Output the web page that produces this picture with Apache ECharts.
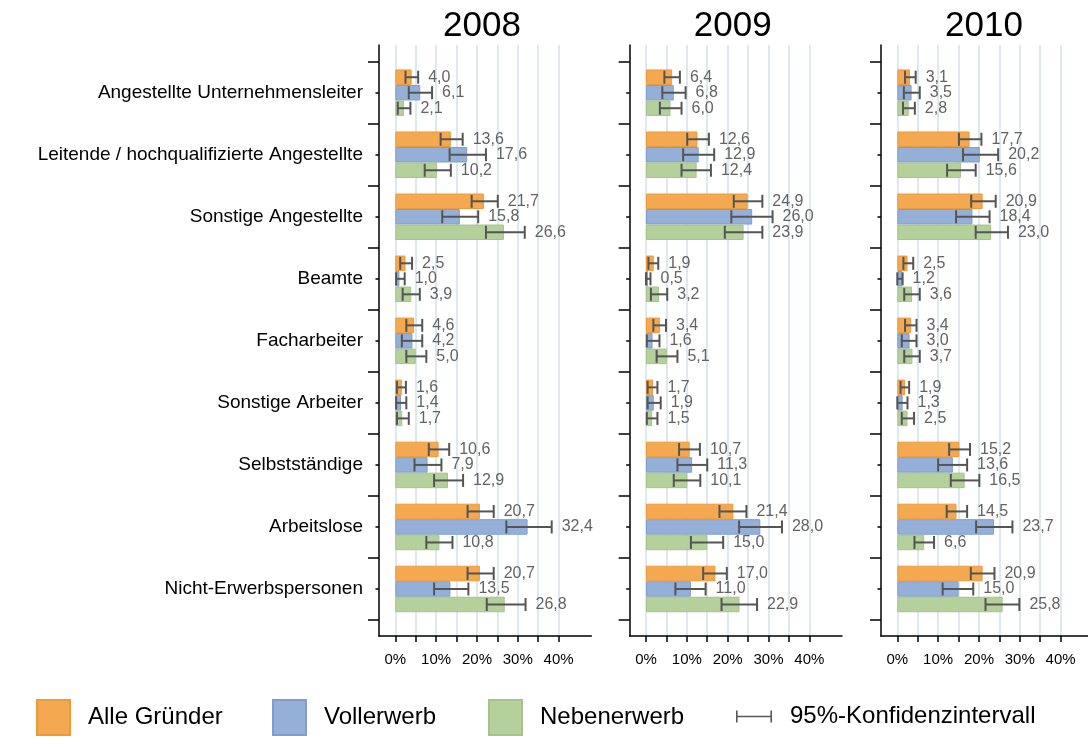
<!DOCTYPE html>
<html>
<head>
<meta charset="utf-8">
<script src="https://cdn.jsdelivr.net/npm/echarts@6/dist/echarts.min.js"></script>
<style>
html, body { margin: 0; padding: 0; background: #fff; }
#chart { width: 1088px; height: 747px; }
</style>
</head>
<body>
<div id="chart"></div>
<script>
var categories = ['Angestellte Unternehmensleiter', 'Leitende / hochqualifizierte Angestellte', 'Sonstige Angestellte',
    'Beamte', 'Facharbeiter', 'Sonstige Arbeiter', 'Selbstständige', 'Arbeitslose', 'Nicht-Erwerbspersonen'];
var years = ['2008', '2009', '2010'];

// Anteile in %
var alle2008 = [4.0, 13.6, 21.7, 2.5, 4.6, 1.6, 10.6, 20.7, 20.7];
var voll2008 = [6.1, 17.6, 15.8, 1.0, 4.2, 1.4, 7.9, 32.4, 13.5];
var neben2008 = [2.1, 10.2, 26.6, 3.9, 5.0, 1.7, 12.9, 10.8, 26.8];
var alle2009 = [6.4, 12.6, 24.9, 1.9, 3.4, 1.7, 10.7, 21.4, 17.0];
var voll2009 = [6.8, 12.9, 26.0, 0.5, 1.6, 1.9, 11.3, 28.0, 11.0];
var neben2009 = [6.0, 12.4, 23.9, 3.2, 5.1, 1.5, 10.1, 15.0, 22.9];
var alle2010 = [3.1, 17.7, 20.9, 2.5, 3.4, 1.9, 15.2, 14.5, 20.9];
var voll2010 = [3.5, 20.2, 18.4, 1.2, 3.0, 1.3, 13.6, 23.7, 15.0];
var neben2010 = [2.8, 15.6, 23.0, 3.6, 3.7, 2.5, 16.5, 6.6, 25.8];

// 95%-Konfidenzintervalle [untere, obere Grenze]
var alle2008Ci = [[2.5, 5.6], [11.1, 16.5], [18.7, 25.1], [1.2, 4.1], [2.7, 6.6], [0.4, 2.6], [8.2, 13.2], [17.7, 24.1], [17.7, 24.1]];
var voll2008Ci = [[3.3, 9.0], [13.3, 22.2], [11.5, 20.3], [0.2, 2.3], [1.6, 6.6], [0.2, 2.7], [4.7, 11.3], [27.2, 38.3], [9.5, 17.9]];
var neben2008Ci = [[0.6, 3.7], [7.2, 13.6], [22.2, 31.7], [1.8, 6.0], [2.7, 7.6], [0.4, 3.3], [9.5, 16.6], [7.6, 14.0], [22.4, 31.9]];
var alle2009Ci = [[4.5, 8.3], [10.1, 15.4], [21.5, 28.5], [0.6, 3.0], [1.8, 4.9], [0.4, 2.8], [8.1, 13.2], [18.0, 24.6], [14.0, 19.8]];
var voll2009Ci = [[4.0, 9.7], [9.1, 16.7], [20.9, 31.0], [0.0, 1.1], [0.2, 3.3], [0.4, 3.6], [7.7, 15.0], [22.8, 33.3], [7.2, 14.6]];
var neben2009Ci = [[3.4, 8.7], [8.7, 15.9], [19.3, 28.5], [1.2, 5.2], [2.6, 7.7], [0.2, 2.8], [6.8, 13.3], [11.0, 18.9], [18.5, 27.2]];
var alle2010Ci = [[1.9, 4.5], [15.1, 20.6], [18.1, 24.1], [1.5, 3.9], [1.9, 4.7], [0.8, 2.9], [12.7, 17.8], [12.1, 17.1], [18.0, 23.8]];
var voll2010Ci = [[1.6, 5.5], [16.1, 24.7], [14.4, 22.6], [0.0, 1.3], [1.1, 4.7], [0.0, 2.5], [10.0, 17.1], [19.3, 28.2], [11.1, 18.6]];
var neben2010Ci = [[1.4, 4.3], [12.2, 19.2], [19.2, 27.1], [1.7, 5.5], [1.7, 5.5], [1.1, 4.1], [13.1, 20.1], [4.2, 9.0], [21.6, 29.9]];

var values = [[alle2008, voll2008, neben2008], [alle2009, voll2009, neben2009], [alle2010, voll2010, neben2010]];
var cis = [[alle2008Ci, voll2008Ci, neben2008Ci], [alle2009Ci, voll2009Ci, neben2009Ci], [alle2010Ci, voll2010Ci, neben2010Ci]];

var seriesNames = ['Alle Gründer', 'Vollerwerb', 'Nebenerwerb'];
var ciName = '95%-Konfidenzintervall';
var colors = ['#f4a84f', '#95b0d8', '#b4d09b'];
var borders = ['#ec9a3c', '#809dcb', '#a4c48b'];
var FONT = '"Liberation Sans", Arial, sans-serif';

// Layout
var zeroX = [395.3, 646, 897.3];
var pxPerPct = 4.083;
var xMin = -4, xMax = 48;
var frameTop = 45, frameBottom = 636;
var catTop = 61.7, catBottom = 620;

function fmt(v) {
    return v.toFixed(1).replace('.', ',');
}

function renderCi(params, api) {
    var cat = api.value(0), k = api.value(1), v = api.value(2);
    var lo = api.value(3), hi = api.value(4);
    var center = api.coord([0, cat]);
    var band = api.size([0, 1])[1];
    var y = center[1] + (k - 1) * band * 0.25;
    var x0 = api.coord([lo, cat])[0];
    var x1 = api.coord([hi, cat])[0];
    var h = 6.5;
    var ls = { stroke: '#555', lineWidth: 2 };
    return {
        type: 'group',
        children: [
            { type: 'line', shape: { x1: x0, y1: y, x2: x1, y2: y }, style: ls },
            { type: 'line', shape: { x1: x0, y1: y - h, x2: x0, y2: y + h }, style: ls },
            { type: 'line', shape: { x1: x1, y1: y - h, x2: x1, y2: y + h }, style: ls },
            {
                type: 'text', x: x1 + 10, y: y,
                style: { text: fmt(v), fill: '#636363', fontSize: 16, fontFamily: FONT, align: 'left', verticalAlign: 'middle' }
            }
        ]
    };
}

var grid = [], xAxis = [], yAxis = [], series = [], title = [];
var blackLine = { color: '#000', width: 1.5 };

years.forEach(function (year, p) {
    var z = zeroX[p];
    var left = z + xMin * pxPerPct;
    var width = (xMax - xMin) * pxPerPct;

    // Rahmen (Achsenlinien)
    grid.push({ left: left, top: frameTop, width: width, height: frameBottom - frameTop, outerBoundsMode: 'none' });
    // Gitterlinien, Ticks, Beschriftung 0-40 %
    grid.push({ left: z, top: frameTop, width: 40 * pxPerPct, height: frameBottom - frameTop, outerBoundsMode: 'none' });
    // Balken
    grid.push({ left: left, top: catTop, width: width, height: catBottom - catTop, outerBoundsMode: 'none' });

    xAxis.push({
        gridIndex: 3 * p, type: 'value', min: xMin, max: xMax,
        axisLine: { show: true, onZero: false, lineStyle: blackLine },
        axisTick: { show: false }, axisLabel: { show: false }, splitLine: { show: false }
    });
    xAxis.push({
        gridIndex: 3 * p + 1, type: 'value', min: 0, max: 40, interval: 5,
        axisLine: { show: false },
        axisTick: { show: true, length: 6, lineStyle: blackLine },
        axisLabel: {
            fontSize: 15, color: '#000', fontFamily: FONT, margin: 16,
            showMinLabel: true, showMaxLabel: true, hideOverlap: false,
            formatter: function (v) { return v % 10 === 0 ? v + '%' : ''; }
        },
        splitLine: { show: true, lineStyle: { color: '#dde9ef', width: 2 } }
    });
    xAxis.push({ gridIndex: 3 * p + 2, type: 'value', min: xMin, max: xMax, show: false });

    yAxis.push({
        gridIndex: 3 * p, type: 'value', min: 0, max: 1,
        axisLine: { show: true, onZero: false, lineStyle: blackLine },
        axisTick: { show: false }, axisLabel: { show: false }, splitLine: { show: false }
    });
    yAxis.push({ gridIndex: 3 * p + 1, type: 'value', min: 0, max: 1, show: false });
    yAxis.push({
        gridIndex: 3 * p + 2, type: 'category', data: categories, inverse: true, position: 'left',
        axisLine: { show: false, onZero: false },
        axisTick: { show: true, length: 11, lineStyle: blackLine },
        axisLabel: { show: p === 0, fontSize: 19, color: '#000', fontFamily: FONT, margin: 16 }
    });
    yAxis.push({
        gridIndex: 3 * p + 2, type: 'category', data: categories, inverse: true, position: 'left', offset: 0,
        axisLine: { show: false, onZero: false },
        axisTick: { show: true, alignWithLabel: true, length: 3.5, lineStyle: blackLine },
        axisLabel: { show: false }
    });

    seriesNames.forEach(function (name, k) {
        series.push({
            type: 'bar', name: name,
            xAxisIndex: 3 * p + 2, yAxisIndex: 4 * p + 2,
            data: values[p][k],
            barGap: '0%', barCategoryGap: '25%',
            itemStyle: { color: colors[k], borderColor: borders[k], borderWidth: 1 }
        });
    });

    var ciData = [];
    for (var k = 0; k < 3; k++) {
        for (var i = 0; i < categories.length; i++) {
            ciData.push([i, k, values[p][k][i], cis[p][k][i][0], cis[p][k][i][1]]);
        }
    }
    series.push({
        type: 'custom', name: ciName,
        xAxisIndex: 3 * p + 2, yAxisIndex: 4 * p + 2,
        renderItem: renderCi,
        encode: { x: [2, 3, 4], y: 0 },
        itemStyle: { color: '#595959' },
        data: ciData, z: 5
    });

    title.push({
        text: year, left: z + 20 * pxPerPct, top: 4, textAlign: 'center',
        textStyle: { fontSize: 35, fontWeight: 'normal', color: '#000', fontFamily: FONT }
    });
});

var ciIcon = 'path://M0,0L0.01,0Z M0,35L0.01,35Z M0,16.75L36,16.75L36,18.25L0,18.25Z M0,11.5L1.6,11.5L1.6,23.5L0,23.5Z M34.4,11.5L36,11.5L36,23.5L34.4,23.5Z';
var legendText = { fontSize: 24, color: '#000', fontFamily: FONT, padding: [0, 0, 0, 13] };
var legendLefts = [36, 272, 488, 736];
var legendNames = seriesNames.concat([ciName]);
var legend = legendNames.map(function (name, i) {
    return {
        data: [{ name: name, icon: i < 3 ? 'rect' : ciIcon }],
        left: legendLefts[i], top: 699, padding: 0,
        itemWidth: i < 3 ? 33 : 36, itemHeight: 35,
        selectedMode: false,
        textStyle: legendText
    };
});

var myChart = echarts.init(document.getElementById('chart'));
myChart.setOption({
    animation: false,
    title: title,
    legend: legend,
    grid: grid,
    xAxis: xAxis,
    yAxis: yAxis,
    series: series
});
</script>
</body>
</html>
